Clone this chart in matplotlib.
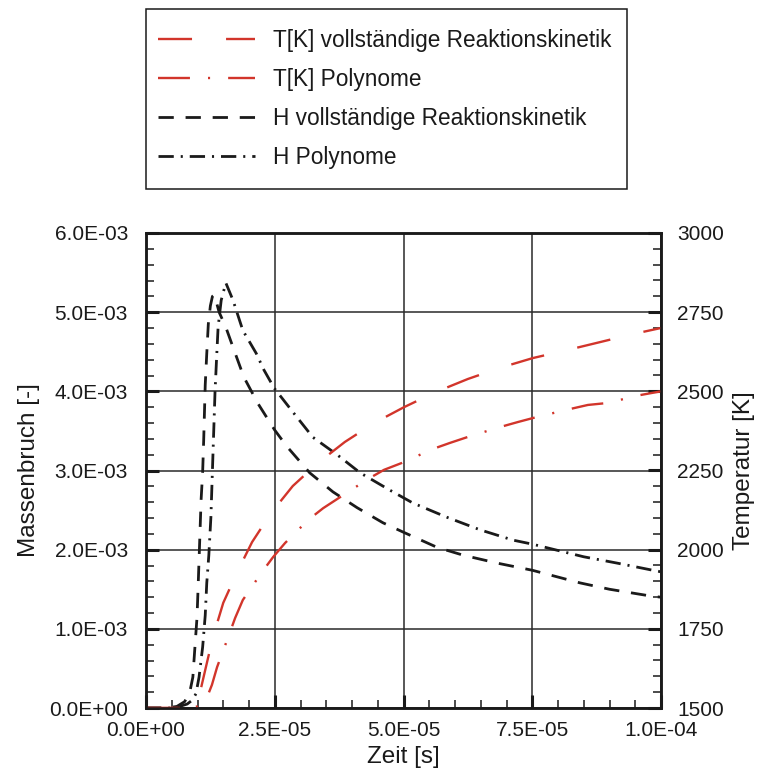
import numpy as np
import matplotlib
matplotlib.use('Agg')
import matplotlib.pyplot as plt
from matplotlib.ticker import MultipleLocator, FuncFormatter
from matplotlib.lines import Line2D
from matplotlib.patches import Rectangle

plt.rcParams['font.family'] = ['Liberation Sans', 'DejaVu Sans']
plt.rcParams['lines.scale_dashes'] = False

# Zeit in 1E-05 s, Massenbruch in 1E-03
t_h_voll = [0, 0.4, 0.6, 0.75, 0.85, 0.91, 0.95, 0.99, 1.01, 1.03, 1.05, 1.07, 1.1, 1.12,
            1.15, 1.18, 1.21, 1.25, 1.29, 1.33, 1.37, 1.42, 1.55, 1.71, 1.9, 2.17, 2.5,
            2.74, 3.18, 3.63, 4.1, 4.6, 5.0, 5.65, 6.16, 6.82, 7.5, 8.43, 9.0, 9.84, 10.0]
h_voll = [0, 0, 0.02, 0.08, 0.2, 0.39, 0.77, 1.14, 1.49, 1.87, 2.25, 2.63, 2.98, 3.38,
          4.08, 4.48, 4.85, 5.08, 5.2, 5.22, 5.12, 5.0, 4.81, 4.52, 4.18, 3.85, 3.51,
          3.3, 2.97, 2.73, 2.53, 2.34, 2.22, 2.03, 1.93, 1.83, 1.74, 1.58, 1.5, 1.41, 1.4]

t_h_poly = [0, 0.56, 0.8, 0.9, 0.97, 1.03, 1.1, 1.15, 1.18, 1.22, 1.26, 1.3, 1.34, 1.37,
            1.4, 1.46, 1.55, 1.69, 1.88, 2.14, 2.29, 2.49, 2.85, 3.24, 3.71, 4.16, 4.74,
            5.18, 5.84, 6.49, 7.13, 7.5, 8.5, 9.15, 9.84, 10.0]
h_poly = [0, 0, 0.05, 0.1, 0.18, 0.39, 0.77, 1.17, 1.58, 1.93, 2.41, 3.2, 3.99, 4.41,
          4.81, 5.15, 5.37, 5.15, 4.77, 4.48, 4.27, 4.04, 3.74, 3.42, 3.2, 2.97, 2.75,
          2.59, 2.41, 2.25, 2.12, 2.07, 1.91, 1.83, 1.74, 1.72]

# Temperatur in K
t_T_voll = [0, 0.8, 0.95, 1.05, 1.15, 1.3, 1.5, 1.77, 2.06, 2.43, 2.85, 3.34, 3.86, 4.43,
            5.01, 5.63, 6.25, 6.87, 7.51, 8.17, 8.83, 9.46, 10.0]
T_voll = [1500, 1500, 1512, 1550, 1620, 1724, 1832, 1929, 2024, 2116, 2201, 2274, 2340,
          2400, 2450, 2498, 2539, 2574, 2605, 2630, 2656, 2681, 2700]

t_T_poly = [0, 0.85, 1.0, 1.1, 1.2, 1.28, 1.38, 1.61, 1.73, 1.88, 2.25, 2.47, 2.7, 3.15,
            3.44, 3.77, 4.31, 4.62, 4.97, 5.57, 5.9, 6.25, 6.87, 7.22, 7.59, 8.23, 8.58,
            8.95, 9.59, 10.0]
T_poly = [1500, 1500, 1505, 1518, 1540, 1573, 1629, 1730, 1784, 1841, 1929, 1977, 2021,
          2094, 2131, 2166, 2223, 2252, 2274, 2318, 2337, 2356, 2387, 2403, 2419, 2444,
          2457, 2463, 2488, 2500]

labels = ['T[K] vollständige Reaktionskinetik', 'T[K] Polynome',
          'H vollständige Reaktionskinetik', 'H Polynome']

red = '#d2352b'
blk = '#1a1a1a'
s_T_voll = dict(color=red, lw=1.7, dashes=(24.5, 24.5))
s_T_poly = dict(color=red, lw=1.7, dashes=(23, 13, 1.5, 13))
s_h_voll = dict(color=blk, lw=2.0, dashes=(11, 8.5))
s_h_poly = dict(color=blk, lw=2.0, dashes=(11, 5, 1.5, 5))

fig = plt.figure(figsize=(7.64, 7.73), dpi=100)
ax = fig.add_axes([146/764, 1 - 708/773, 515/764, 475/773])
ax2 = ax.twinx()

ax.plot(np.array(t_h_voll)*1e-5, np.array(h_voll)*1e-3, **s_h_voll, zorder=3)
ax.plot(np.array(t_h_poly)*1e-5, np.array(h_poly)*1e-3, **s_h_poly, zorder=3)
ax2.plot(np.array(t_T_voll)*1e-5, T_voll, **s_T_voll)
ax2.plot(np.array(t_T_poly)*1e-5, T_poly, **s_T_poly)

ax.set_xlim(0, 1e-4)
ax.set_ylim(0, 6e-3)
ax2.set_ylim(1500, 3000)

ax.xaxis.set_major_locator(MultipleLocator(2.5e-5))
ax.xaxis.set_minor_locator(MultipleLocator(0.5e-5))
ax.yaxis.set_major_locator(MultipleLocator(1e-3))
ax.yaxis.set_minor_locator(MultipleLocator(2e-4))
ax2.yaxis.set_major_locator(MultipleLocator(250))
ax2.yaxis.set_minor_locator(MultipleLocator(50))

sci = FuncFormatter(lambda v, p: f'{v:.1E}')
ax.xaxis.set_major_formatter(sci)
ax.yaxis.set_major_formatter(sci)

ax.grid(True, which='major', color='#2a2a2a', lw=1.1)
ax.set_axisbelow(True)

for a in (ax, ax2):
    for sp in a.spines.values():
        sp.set_linewidth(1.8)
        sp.set_color(blk)
ax.tick_params(which='both', direction='in', top=False, right=False, labelsize=15,
               colors=blk)
ax.tick_params(which='major', length=9.4, width=2.2)
ax.tick_params(which='minor', length=5.8, width=1.1)
ax.tick_params(axis='y', pad=13)
ax.tick_params(axis='x', pad=9)
ax2.tick_params(which='both', direction='in', labelsize=15, pad=11.5, colors=blk)
ax2.tick_params(which='major', length=9.4, width=2.2)
ax2.tick_params(which='minor', length=5.8, width=1.1)

ax.set_xlabel('Zeit [s]', fontsize=17.5, color=blk)
ax.set_ylabel('Massenbruch [-]', fontsize=17.5, color=blk)
ax2.set_ylabel('Temperatur [K]', fontsize=17.5, color=blk)
ax.xaxis.set_label_coords(0.5, -0.08)
ax.yaxis.set_label_coords(-0.205, 0.5)
ax2.yaxis.set_label_coords(1.14, 0.5)

# Legende
handles = [Line2D([], [], **s_T_voll), Line2D([], [], **s_T_poly),
           Line2D([], [], **s_h_voll), Line2D([], [], **s_h_poly)]
fig.legend(handles, labels, loc='upper left', bbox_to_anchor=(158/764, 1 - 29/773),
           frameon=False, fontsize=16.3, borderpad=0, borderaxespad=0,
           handlelength=4.3, handletextpad=0.8, labelspacing=0.71, labelcolor=blk)
fig.add_artist(Rectangle((146/764, 1 - 189/773), 481/764, 180/773,
                         transform=fig.transFigure, fill=False, lw=1.1, ec=blk))

fig.savefig('out.png', dpi=100)
